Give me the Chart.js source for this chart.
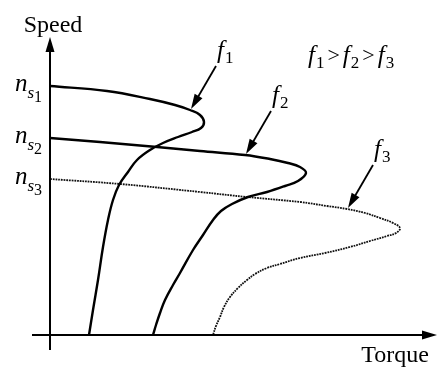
<!DOCTYPE html>
<html>
<head>
<meta charset="utf-8">
<script src="https://cdn.jsdelivr.net/npm/chart.js@4.4.0/dist/chart.umd.min.js"></script>
<style>
body{margin:0;background:#fff;}
#chart_speed{display:block;}
</style>
</head>
<body>
<canvas id="chart_speed" width="438" height="367"></canvas>
<script>
// torque-speed curves, one per supply frequency (arbitrary units, speed 100 ~ ns1)
var torqueF1 = [0, 22.8, 40, 50, 56, 60, 61.6, 60.4, 56.8, 51.2, 45.2, 40, 34.8, 31.2, 27.6, 25.2, 23.2, 21.2, 19.2, 17.2, 15.6];
var speedF1  = [99.6, 97.6, 94.4, 92, 90, 88, 85.2, 82.8, 81.2, 79.2, 76.8, 74, 70, 65.2, 60, 54, 46, 35.2, 22, 10, 0];

var torqueF2 = [0, 20, 42.8, 60, 78, 88, 95.2, 100, 102.4, 99.2, 94, 86.8, 79.2, 72.8, 68.4, 65.2, 61.2, 57.2, 52, 49.2, 46, 44, 42.4, 41.2];
var speedF2  = [78.8, 77.2, 75.2, 73.6, 72, 70.4, 68.8, 67.2, 64.8, 61.6, 59.6, 57.2, 55.2, 52.4, 49.6, 46, 40, 34, 24.8, 20, 14, 8.8, 4, 0];

var torqueF3 = [0, 28, 60, 78.8, 100, 110.8, 118.8, 126, 132, 137.2, 140, 138.4, 134.8, 128, 120, 110, 100, 92, 86.8, 82, 78.8, 75.2, 72, 69.6, 68, 66.4, 65.2];
var speedF3  = [62.4, 60.4, 57.2, 55.2, 53.2, 51.6, 50.4, 48.8, 46.8, 44.8, 42.8, 40.8, 39.6, 37.6, 35.2, 32.8, 30.8, 28.4, 26.8, 24.4, 22, 18.8, 15.2, 11.2, 7.2, 3.6, 0];

var syncSpeeds = [99.6, 78.8, 62.4];
var syncSubs = ["1", "2", "3"];
var freqSubs = ["1", "2", "3"];
var arrowPoint = [4, 4, 6];   // curve point each f label arrow points at

var SERIF = '"Liberation Serif", "DejaVu Serif", serif';

function toPoints(xs, ys){
    var pts = [];
    for(var i = 0; i < xs.length; i++){
        pts.push({x: xs[i], y: ys[i]});
    }
    return pts;
}

function arrowHead(ctx, x1, y1, x2, y2, len, half){
    var a = Math.atan2(y2 - y1, x2 - x1);
    ctx.beginPath();
    ctx.moveTo(x2, y2);
    ctx.lineTo(x2 - len*Math.cos(a) + half*Math.sin(a), y2 - len*Math.sin(a) - half*Math.cos(a));
    ctx.lineTo(x2 - len*Math.cos(a) - half*Math.sin(a), y2 - len*Math.sin(a) + half*Math.cos(a));
    ctx.closePath();
    ctx.fill();
}

function arrowLine(ctx, x1, y1, x2, y2, width, len, half){
    var a = Math.atan2(y2 - y1, x2 - x1);
    ctx.lineWidth = width;
    ctx.beginPath();
    ctx.moveTo(x1, y1);
    ctx.lineTo(x2 - (len - 2)*Math.cos(a), y2 - (len - 2)*Math.sin(a));
    ctx.stroke();
    arrowHead(ctx, x1, y1, x2, y2, len, half);
}

// italic f with upright subscript digit
function drawFreq(ctx, x, y, sub){
    ctx.font = 'italic 25px ' + SERIF;
    ctx.fillText('f', x, y);
    var w = ctx.measureText('f').width;
    ctx.font = '17px ' + SERIF;
    ctx.fillText(sub, x + w + 1, y + 5);
    return x + w + 1 + ctx.measureText(sub).width;
}

var axesPlugin = {
    id: 'axesPlugin',
    afterDraw: function(chart){
        var ctx = chart.ctx;
        var sx = chart.scales.x;
        var sy = chart.scales.y;
        var x0 = sx.getPixelForValue(0);
        var y0 = sy.getPixelForValue(0);
        ctx.save();
        ctx.strokeStyle = '#000';
        ctx.fillStyle = '#000';
        ctx.lineCap = 'butt';

        // axes with arrow heads
        arrowLine(ctx, x0, 350, x0, 37, 2, 15, 4.5);
        arrowLine(ctx, 32, y0, 437, y0, 2, 15, 4.5);

        ctx.textBaseline = 'alphabetic';
        ctx.font = '24px ' + SERIF;
        ctx.textAlign = 'center';
        ctx.fillText('Speed', 53, 32);
        ctx.textAlign = 'right';
        ctx.font = '24px ' + SERIF;
        ctx.fillText('Torque', 429, 362);
        ctx.textAlign = 'left';

        // synchronous speed labels n_s1..n_s3
        for(var i = 0; i < syncSpeeds.length; i++){
            var py = sy.getPixelForValue(syncSpeeds[i]);
            var x = 15;
            ctx.font = 'italic 25px ' + SERIF;
            ctx.fillText('n', x, py + 5);
            x += ctx.measureText('n').width;
            ctx.font = 'italic 17px ' + SERIF;
            ctx.fillText('s', x, py + 12);
            x += ctx.measureText('s').width;
            ctx.font = '16px ' + SERIF;
            ctx.fillText(syncSubs[i], x, py + 16);
        }

        // frequency labels with arrows onto their curves
        for(var k = 0; k < 3; k++){
            var pt = chart.getDatasetMeta(k).data[arrowPoint[k]];
            var tx = pt.x + 1, ty = pt.y - 1;
            arrowLine(ctx, tx + 25, ty - 43, tx, ty, 1.8, 15, 4.5);
            drawFreq(ctx, tx + 26, ty - 51, freqSubs[k]);
        }

        // f1 > f2 > f3
        var fx = 308, fy = 63;
        for(var j = 0; j < 3; j++){
            fx = drawFreq(ctx, fx, fy, freqSubs[j]);
            if(j < 2){
                ctx.font = '22px ' + SERIF;
                ctx.fillText('>', fx + 3, fy - 1);
                fx += 3 + ctx.measureText('>').width + 3;
            }
        }
        ctx.restore();
    }
};

var config = {
    type: 'scatter',
    data: {
        datasets: [{
            label: 'f1',
            data: toPoints(torqueF1, speedF1),
            showLine: true,
            borderColor: '#000',
            borderWidth: 2.4,
            pointRadius: 0,
            tension: 0.4
        },{
            label: 'f2',
            data: toPoints(torqueF2, speedF2),
            showLine: true,
            borderColor: '#000',
            borderWidth: 2.4,
            pointRadius: 0,
            tension: 0.4
        },{
            label: 'f3',
            data: toPoints(torqueF3, speedF3),
            showLine: true,
            borderColor: '#111',
            borderWidth: 1.8,
            borderDash: [1.8, 0.9],
            pointRadius: 0,
            tension: 0.4
        }]
    },
    options: {
        responsive: false,
        animation: false,
        devicePixelRatio: 1,
        layout: { padding: 0 },
        plugins: { legend: { display: false }, tooltip: { enabled: false } },
        scales: {
            x: { type: 'linear', min: -20, max: 155.2, display: false },
            y: { type: 'linear', min: -12.8, max: 134, display: false }
        }
    },
    plugins: [axesPlugin]
};
var chartSpeed = new Chart(document.getElementById('chart_speed').getContext('2d'), config);
</script>
</body>
</html>
